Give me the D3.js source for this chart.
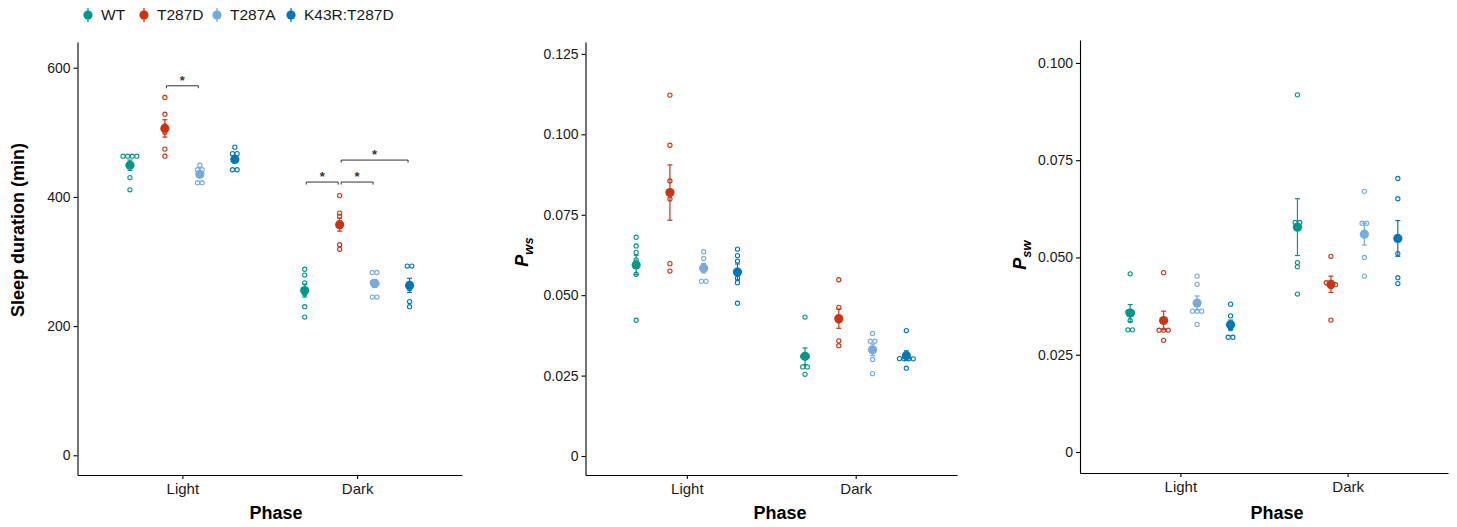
<!DOCTYPE html>
<html>
<head>
<meta charset="utf-8">
<script src="https://cdn.jsdelivr.net/npm/d3@7"></script>
<style>
  body { margin: 0; background: #fff; }
  svg text { font-family: "Liberation Sans", Arial, Helvetica, sans-serif; }
</style>
</head>
<body>
<div id="chart"></div>
<script>
// ---- data ----
const groups = ["WT", "T287D", "T287A", "K43R:T287D"];
const phases = ["Light", "Dark"];
const colors = ["#009988", "#CC3311", "#77AADD", "#0077BB"];

// sleep duration (min), one array per group
const sleepLight = [[463, 463, 463, 463, 430, 411], [554, 528, 510, 500, 474, 463], [449, 442, 442, 435, 422, 422], [477, 467, 467, 458, 442, 442]];
const sleepDark = [[288, 279, 267, 250, 230, 214], [402, 375, 370, 360, 326, 319], [283, 283, 268, 266, 245, 245], [293, 293, 262, 258, 238, 230]];
const sleepMean = { Light: [449, 506, 435, 458], Dark: [255, 357, 266, 263] };
const sleepSe = { Light: [8, 13.5, 4, 5], Dark: [10, 10, 6, 11] };
const sleepTicks = [0, 200, 400, 600];

// P_ws
const pwsLight = [[0.0680, 0.0653, 0.0633, 0.0610, 0.0565, 0.0422], [0.1122, 0.0966, 0.0855, 0.0799, 0.0598, 0.0575], [0.0635, 0.0614, 0.0590, 0.0580, 0.0543, 0.0543], [0.0643, 0.0623, 0.0606, 0.0553, 0.0539, 0.0475]];
const pwsDark = [[0.0432, 0.0310, 0.0310, 0.0277, 0.0277, 0.0254], [0.0548, 0.0462, 0.0430, 0.0420, 0.0358, 0.0343], [0.0381, 0.0357, 0.0357, 0.0329, 0.0300, 0.0256], [0.0390, 0.0303, 0.0302, 0.0302, 0.0302, 0.0273]];
const pwsMean = { Light: [0.0594, 0.0819, 0.0584, 0.0572], Dark: [0.0310, 0.0427, 0.0330, 0.0312] };
const pwsSe = { Light: [0.0030, 0.0086, 0.0015, 0.0025], Dark: [0.0026, 0.0030, 0.0018, 0.0015] };
const pwsTicks = [0, 0.025, 0.05, 0.075, 0.1, 0.125];

// P_sw
const pswLight = [[0.0458, 0.0360, 0.0358, 0.0338, 0.0314, 0.0314], [0.0461, 0.0341, 0.0313, 0.0313, 0.0313, 0.0287], [0.0452, 0.0431, 0.0362, 0.0362, 0.0362, 0.0328], [0.0380, 0.0350, 0.0325, 0.0317, 0.0295, 0.0295]];
const pswDark = [[0.0918, 0.0590, 0.0590, 0.0487, 0.0476, 0.0406], [0.0503, 0.0435, 0.0430, 0.0430, 0.0425, 0.0339], [0.0670, 0.0588, 0.0588, 0.0562, 0.0500, 0.0452], [0.0703, 0.0651, 0.0549, 0.0510, 0.0448, 0.0433]];
const pswMean = { Light: [0.0357, 0.0338, 0.0383, 0.0327], Dark: [0.0578, 0.0431, 0.0560, 0.0549] };
const pswSe = { Light: [0.0022, 0.0024, 0.0018, 0.0012], Dark: [0.0073, 0.0021, 0.0028, 0.0046] };
const pswTicks = [0, 0.025, 0.05, 0.075, 0.1];

// significance brackets (sleep panel only): phase, group a, group b, height (min)
const sleepSig = [
  { phase: "Light", a: 1, b: 2, y: 572 },
  { phase: "Dark", a: 0, b: 1, y: 423 },
  { phase: "Dark", a: 1, b: 2, y: 423 },
  { phase: "Dark", a: 1, b: 3, y: 457 }
];

// ---- layout ----
const W = 1457, H = 527;
const svg = d3.select("#chart").append("svg")
  .attr("width", W).attr("height", H);
svg.append("rect").attr("width", W).attr("height", H).attr("fill", "#fff");

const panels = [
  { left: 77.5, right: 462, top: 42, bottom: 475, domain: [-30.5, 639.8],
    points: { Light: sleepLight, Dark: sleepDark }, mean: sleepMean, se: sleepSe,
    ticks: sleepTicks, fmt: d3.format("d"), title: "Sleep duration (min)", titleX: 18, titleY: 230,
    phaseX: 276, sig: sleepSig },
  { left: 585.5, right: 957, top: 42, bottom: 475, domain: [-0.0059, 0.1287],
    points: { Light: pwsLight, Dark: pwsDark }, mean: pwsMean, se: pwsSe,
    ticks: pwsTicks, fmt: d => d === 0 ? "0" : d3.format(".3f")(d), title: ["P", "ws"], titleX: 522, titleY: 252,
    phaseX: 780, sig: [] },
  { left: 1080, right: 1448, top: 40, bottom: 473, domain: [-0.0054, 0.1059],
    points: { Light: pswLight, Dark: pswDark }, mean: pswMean, se: pswSe,
    ticks: pswTicks, fmt: d => d === 0 ? "0" : d3.format(".3f")(d), title: ["P", "sw"], titleX: 1020, titleY: 255,
    phaseX: 1277, sig: [] }
];

const dodge = 0.2; // in category steps

panels.forEach(p => {
  const y = d3.scaleLinear().domain(p.domain).range([p.bottom, p.top]);
  const x = d3.scalePoint().domain(phases).range([p.left, p.right]).padding(0.6);
  const step = x.step();
  const gx = (phase, gi) => x(phase) + (gi - 1.5) * dodge * step;

  const g = svg.append("g");

  // axes
  const yAxis = d3.axisLeft(y).tickValues(p.ticks).tickFormat(p.fmt).tickSize(4).tickPadding(3).tickSizeOuter(0);
  const xAxis = d3.axisBottom(x).tickSize(4).tickPadding(4).tickSizeOuter(0);
  const yAxisG = g.append("g").attr("transform", `translate(${p.left},0)`).call(yAxis);
  const xAxisG = g.append("g").attr("transform", `translate(0,${p.bottom})`).call(xAxis);
  [yAxisG, xAxisG].forEach(a => {
    a.select(".domain").attr("stroke", "#000").attr("stroke-width", 1.1);
    a.selectAll(".tick line").attr("stroke", "#000").attr("stroke-width", 1.1);
    a.selectAll(".tick text").attr("fill", "#1a1a1a").style("font-size", "14px");
  });
  xAxisG.selectAll(".tick text").style("font-size", "15px");

  // axis titles
  g.append("text")
    .attr("x", p.phaseX).attr("y", 519)
    .attr("text-anchor", "middle")
    .style("font-size", "18px").style("font-weight", "bold")
    .text("Phase");

  const yt = g.append("text")
    .attr("transform", `translate(${p.titleX},${p.titleY}) rotate(-90)`)
    .attr("text-anchor", "middle")
    .attr("dy", "0.35em")
    .style("font-size", "18px").style("font-weight", "bold");
  if (typeof p.title === "string") {
    yt.text(p.title);
  } else {
    yt.append("tspan").style("font-style", "italic").text(p.title[0]);
    yt.append("tspan").style("font-style", "italic").style("font-size", "13px")
      .attr("dy", "5").text(p.title[1]);
  }

  // individual points, spread sideways where values coincide
  phases.forEach(phase => {
    p.points[phase].forEach((vals, gi) => {
      const sorted = vals.map(v => ({ v, py: y(v) })).sort((a, b) => a.py - b.py);
      const rows = [];
      sorted.forEach(d => {
        const last = rows[rows.length - 1];
        if (last && Math.abs(d.py - last[0].py) < 2.5) last.push(d);
        else rows.push([d]);
      });
      const pts = [];
      rows.forEach(r => r.forEach((d, k) => pts.push({ cx: gx(phase, gi) + (k - (r.length - 1) / 2) * 4.6, cy: d.py })));
      g.selectAll(null).data(pts).join("circle")
        .attr("cx", d => d.cx).attr("cy", d => d.cy).attr("r", 2.1)
        .attr("fill", "none").attr("stroke", colors[gi]).attr("stroke-width", 1.1);
    });
  });

  // mean +/- SE
  phases.forEach(phase => {
    groups.forEach((grp, gi) => {
      const cx = gx(phase, gi);
      const m = p.mean[phase][gi], s = p.se[phase][gi];
      const y0 = y(m - s), y1 = y(m + s);
      g.append("line").attr("x1", cx).attr("x2", cx).attr("y1", y0).attr("y2", y1)
        .attr("stroke", colors[gi]).attr("stroke-width", 1.2);
      [y0, y1].forEach(yy => g.append("line")
        .attr("x1", cx - 2.5).attr("x2", cx + 2.5).attr("y1", yy).attr("y2", yy)
        .attr("stroke", colors[gi]).attr("stroke-width", 1.2));
      g.append("circle").attr("cx", cx).attr("cy", y(m)).attr("r", 4.6).attr("fill", colors[gi]);
    });
  });

  // significance brackets
  p.sig.forEach(s => {
    const xa = gx(s.phase, s.a) + 1.5, xb = gx(s.phase, s.b) - 1.5, yy = y(s.y);
    g.append("path")
      .attr("d", `M${xa},${yy + 2.5}V${yy}H${xb}V${yy + 2.5}`)
      .attr("fill", "none").attr("stroke", "#333").attr("stroke-width", 1);
    g.append("text")
      .attr("x", (xa + xb) / 2).attr("y", yy - 1)
      .attr("text-anchor", "middle")
      .style("font-size", "13px").style("font-weight", "bold").attr("fill", "#333")
      .text("*");
  });
});

// ---- legend ----
const legendX = [88, 144, 217, 291];
const legend = svg.append("g").attr("transform", "translate(0,15)");
groups.forEach((grp, gi) => {
  const item = legend.append("g").attr("transform", `translate(${legendX[gi]},0)`);
  item.append("line").attr("y1", -7).attr("y2", 7).attr("stroke", colors[gi]).attr("stroke-width", 1.3);
  item.append("circle").attr("r", 4.6).attr("fill", colors[gi]);
  item.append("text").attr("x", 13).attr("dy", "0.35em")
    .style("font-size", "15.5px").attr("fill", "#1a1a1a").text(grp);
});
</script>
</body>
</html>
